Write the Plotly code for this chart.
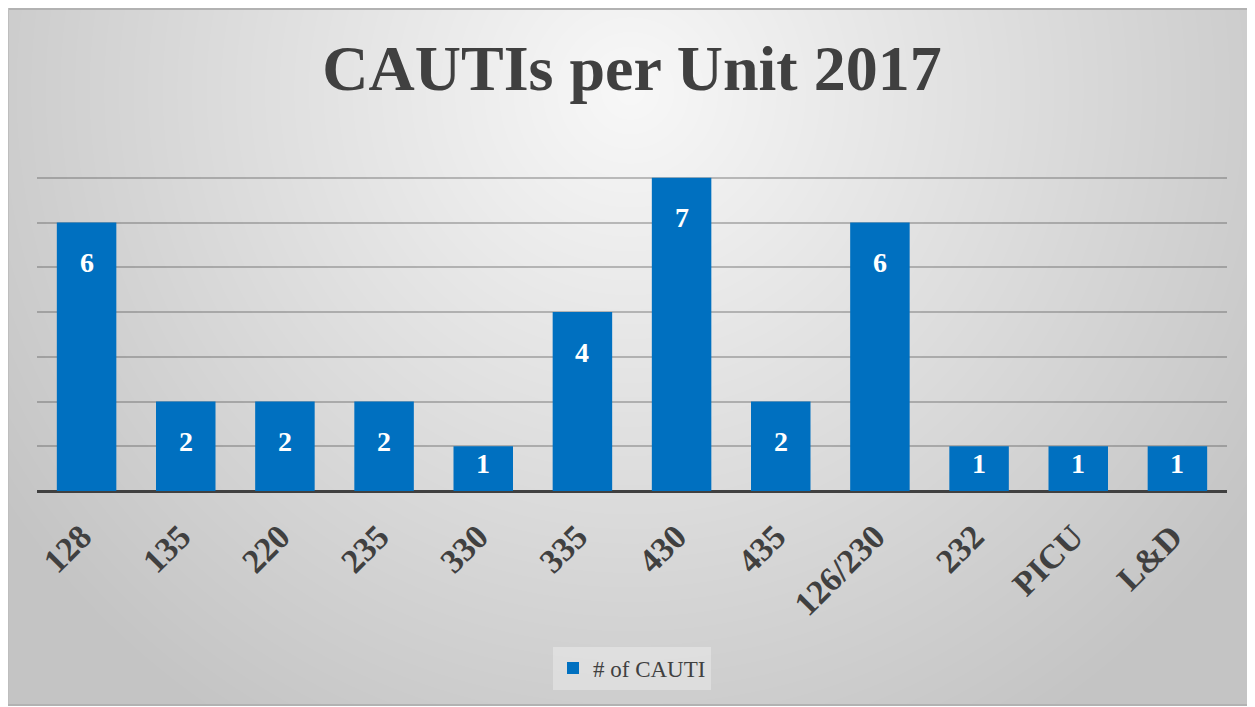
import base64, struct, zlib
import numpy as np
import plotly.graph_objects as go

units = ["128", "135", "220", "235", "330", "335", "430", "435", "126/230", "232", "PICU", "L&D"]
cauti_counts = [6, 2, 2, 2, 1, 4, 7, 2, 6, 1, 1, 1]
series_name = "# of CAUTI"
title_text = "CAUTIs per Unit 2017"

OFF = 8                     # page body margin of the browser
W, H = 1255 - OFF, 707 - OFF
PL, PR = 37 - OFF, 1227 - OFF   # plot area left/right in px
PT, PB = 133 - OFF, 491 - OFF   # plot area top/bottom in px
FONT = "Liberation Serif"
DARK = "#404040"
BLUE = "#0070C0"

# ---- background gradient image (decoration only) ----
yy, xx = np.mgrid[0:H, 0:W].astype(float)
d = np.sqrt((xx - (630 - OFF)) ** 2 + (yy - (90 - OFF)) ** 2)
g = 248 - 52 * np.clip(d / 760.0, 0, 1)
img = g.clip(0, 255).astype(np.uint8)
img[0:2, :] = 178
img[:, 0] = 190
img[696:698, :] = 178
img[698:, :] = 255


def png_bytes(arr):
    h, w = arr.shape
    raw = b"".join(b"\x00" + arr[r].tobytes() for r in range(h))

    def chunk(t, data):
        return struct.pack(">I", len(data)) + t + data + struct.pack(">I", zlib.crc32(t + data) & 0xFFFFFFFF)

    ihdr = struct.pack(">IIBBBBB", w, h, 8, 0, 0, 0, 0)
    return b"\x89PNG\r\n\x1a\n" + chunk(b"IHDR", ihdr) + chunk(b"IDAT", zlib.compress(raw, 9)) + chunk(b"IEND", b"")


src = "data:image/png;base64," + base64.b64encode(png_bytes(img)).decode()
pw, ph = PR - PL, PB - PT

fig = go.Figure()
fig.add_trace(go.Bar(
    x=units, y=cauti_counts, name=series_name,
    marker=dict(color=BLUE, line=dict(width=0)),
    showlegend=True,
))

# value labels near top inside each bar (category index positions)
for i, v in enumerate(cauti_counts):
    px_h = v * ph / 8.0
    shift = -min(40, px_h - 28)
    fig.add_annotation(x=i, y=v, xref="x", yref="y", text=str(v), showarrow=False,
                       yshift=shift, yanchor="middle",
                       font=dict(family=FONT, size=28, color="white", weight="bold"))

fig.update_layout(
    width=W, height=H,
    margin=dict(l=PL, r=W - PR, t=PT, b=H - PB, autoexpand=False),
    paper_bgcolor="white",
    plot_bgcolor="rgba(0,0,0,0)",
    bargap=0.4,
    title=dict(text=title_text, x=0.5, xanchor="center", xref="paper",
               y=1 - (68 - OFF) / H, yref="container", yanchor="middle",
               font=dict(family=FONT, size=64, color=DARK, weight="bold")),
    xaxis=dict(type="category", categoryorder="array", categoryarray=units,
               range=[-0.5, len(units) - 0.5], tickangle=-45, showgrid=False, ticks="",
               tickfont=dict(family=FONT, size=34, color=DARK, weight="bold"),
               ticklabelstandoff=18, ticklabelshift=-5, showline=False),
    yaxis=dict(range=[0, 8], dtick=1, showticklabels=False, ticks="",
               showgrid=True, gridcolor="rgba(80,80,80,0.35)", gridwidth=2,
               zeroline=True, zerolinecolor=DARK, zerolinewidth=3, fixedrange=True),
    legend=dict(orientation="h", x=0.5, xanchor="center", y=(PB - (668 - OFF)) / ph, yanchor="middle",
                bgcolor="rgba(255,255,255,0.3)", itemwidth=30,
                font=dict(family=FONT, size=23, color=DARK)),
    images=[dict(source=src, xref="paper", yref="paper", x=-PL / pw, y=PB / ph,
                 sizex=W / pw, sizey=H / ph, xanchor="left", yanchor="top",
                 sizing="stretch", layer="below")],
)

fig.write_html("out.html")
